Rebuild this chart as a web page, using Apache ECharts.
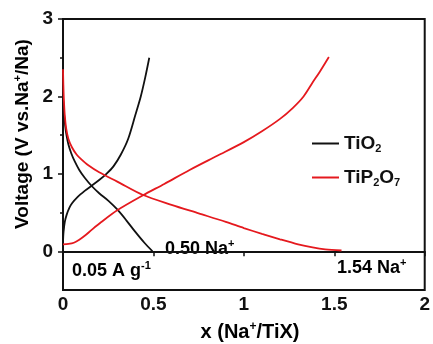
<!DOCTYPE html>
<html><head><meta charset="utf-8">
<script src="https://cdn.jsdelivr.net/npm/echarts@6/dist/echarts.min.js"></script>
<style>html,body{margin:0;padding:0;background:#fff}#c{width:433px;height:344px}</style>
</head><body><div id="c"></div>
<script>
// TiO2 curves [x (Na+/TiX), voltage]
var tio2Discharge = [[0,2.0],[0.005,1.8],[0.012,1.62],[0.02,1.49],[0.03,1.38],[0.045,1.27],[0.065,1.16],[0.09,1.05],[0.12,0.95],[0.16,0.84],[0.2,0.75],[0.25,0.655],[0.3,0.54],[0.35,0.4],[0.4,0.25],[0.45,0.11],[0.495,0.0]];
var tio2Charge = [[0,0.12],[0.003,0.25],[0.01,0.38],[0.02,0.47],[0.035,0.56],[0.05,0.62],[0.08,0.7],[0.12,0.78],[0.16,0.85],[0.2,0.92],[0.24,1.0],[0.28,1.1],[0.32,1.25],[0.36,1.45],[0.4,1.76],[0.43,2.0],[0.455,2.25],[0.477,2.5]];
// TiP2O7 curves
var tip2o7Discharge = [[0,2.35],[0.002,2.15],[0.005,1.95],[0.01,1.75],[0.018,1.58],[0.03,1.45],[0.05,1.34],[0.075,1.25],[0.1,1.19],[0.14,1.11],[0.2,1.02],[0.3,0.9],[0.44,0.73],[0.6,0.6],[0.75,0.49],[0.9,0.38],[1.0,0.3],[1.1,0.225],[1.2,0.155],[1.3,0.09],[1.38,0.05],[1.45,0.025],[1.54,0.01]];
var tip2o7Charge = [[0,0.09],[0.03,0.095],[0.06,0.11],[0.09,0.15],[0.12,0.2],[0.16,0.28],[0.21,0.375],[0.3,0.53],[0.44,0.72],[0.56,0.87],[0.7,1.05],[0.85,1.23],[1.0,1.41],[1.1,1.55],[1.2,1.71],[1.27,1.85],[1.33,2.0],[1.38,2.18],[1.42,2.32],[1.47,2.51]];
var seriesNames = ['TiO2','TiP2O7'];
var majorYTicks = [0,1,2,3];
var minorYTicks = [0.5,1.5,2.5];

var FONT = '"Liberation Sans", Arial, sans-serif';
var BLACK = '#111111', RED = '#e5191e';
var chart = echarts.init(document.getElementById('c'));
function ln(name, data, color){
  return {type:'line', name:name, data:data, symbol:'none', smooth:0.3,
    lineStyle:{color:color,width:1.8}, itemStyle:{color:color}, z:3, animation:false};
}
function rich(size){
  return {
    n:{fontFamily:FONT,fontWeight:'bold',fontSize:size,color:'#111'},
    sup:{fontFamily:FONT,fontWeight:'bold',fontSize:Math.round(size*0.6),color:'#111',padding:[0,0,Math.round(size*0.55),0]},
    sub:{fontFamily:FONT,fontWeight:'bold',fontSize:Math.round(size*0.6),color:'#111',padding:[Math.round(size*0.55),0,0,0]}
  };
}
chart.setOption({
  animation:false,
  grid:{left:63,right:5,top:19,bottom:54,show:true,borderColor:'#111',borderWidth:2,backgroundColor:'transparent'},
  legend:{orient:'vertical',left:312,top:134,padding:0,itemWidth:27,itemHeight:2,itemGap:14,icon:'rect',
    data:seriesNames,
    formatter:function(n){ return n==='TiO2' ? '{n|TiO}{sub|2}' : '{n|TiP}{sub|2}{n|O}{sub|7}'; },
    textStyle:{rich:rich(19)}},
  xAxis:{type:'value',min:0,max:2,interval:0.5,
    axisLine:{lineStyle:{color:'#111',width:2}},
    axisTick:{length:5,lineStyle:{color:'#111',width:1.5}},
    splitLine:{show:false},
    axisLabel:{fontFamily:FONT,fontWeight:'bold',fontSize:19,color:'#111',margin:5}},
  yAxis:[{type:'value',min:-0.5,max:3,interval:0.5,
    axisLine:{lineStyle:{color:'#111',width:2}},
    axisTick:{length:5,customValues:majorYTicks,lineStyle:{color:'#111',width:1.5}},
    splitLine:{show:false},
    axisLabel:{customValues:majorYTicks,fontFamily:FONT,fontWeight:'bold',fontSize:19,color:'#111',margin:10}},
   {type:'value',min:-0.5,max:3,interval:0.5,position:'left',
    axisLine:{show:false},
    axisTick:{length:3,customValues:minorYTicks,lineStyle:{color:'#111',width:1.5}},
    splitLine:{show:false},axisLabel:{show:false}}],
  series:[ln('TiO2',tio2Discharge,BLACK),ln('TiO2',tio2Charge,BLACK),
          ln('TiP2O7',tip2o7Discharge,RED),ln('TiP2O7',tip2o7Charge,RED)],
  graphic:[
    {type:'text',x:23,y:134,rotation:Math.PI/2,style:{text:'{n|Voltage (V vs.Na}{sup|+}{n|/Na)}',rich:rich(19),align:'center',verticalAlign:'middle'}},
    {type:'text',x:250,y:332,style:{text:'{n|x (Na}{sup|+}{n|/TiX)}',rich:rich(20),align:'center',verticalAlign:'middle'}},
    {type:'text',x:165,y:249,style:{text:'{n|0.50 Na}{sup|+}',rich:rich(18),align:'left',verticalAlign:'middle'}},
    {type:'text',x:72,y:271,style:{text:'{n|0.05 A g}{sup|-1}',rich:rich(18),align:'left',verticalAlign:'middle'}},
    {type:'text',x:337,y:268,style:{text:'{n|1.54 Na}{sup|+}',rich:rich(18),align:'left',verticalAlign:'middle'}}
  ]
});
</script></body></html>
